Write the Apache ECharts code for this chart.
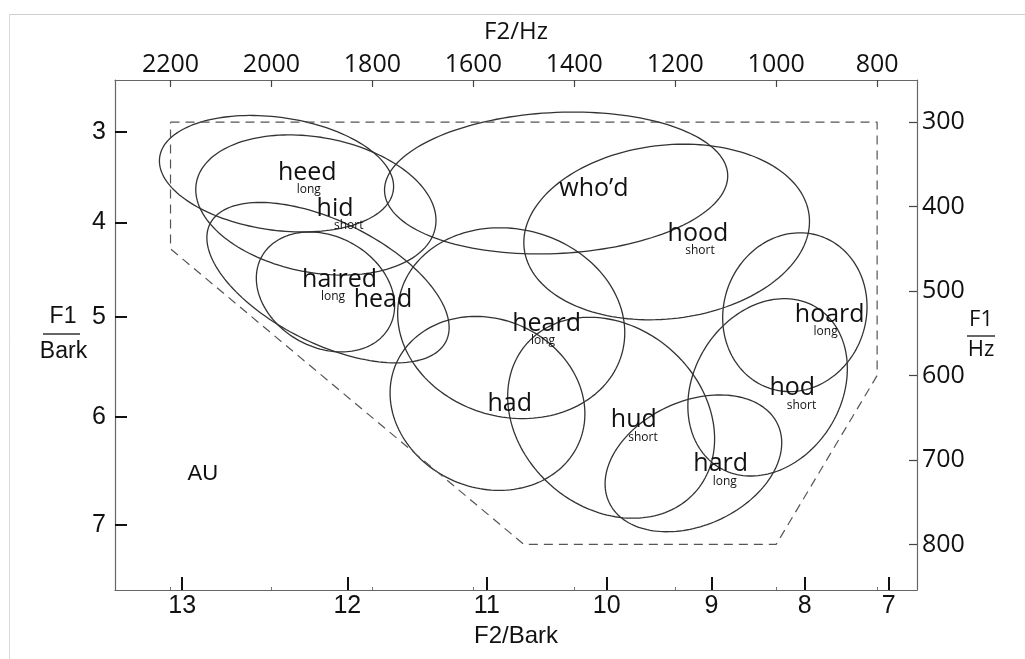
<!DOCTYPE html>
<html>
<head>
<meta charset="utf-8">
<script src="https://cdn.jsdelivr.net/npm/echarts@6/dist/echarts.min.js"></script>
<style>
html,body{margin:0;padding:0;background:#fff;}
#chart{width:1025px;height:659px;}
</style>
</head>
<body>
<div id="chart"></div>
<script>
// ---------------- data ----------------
const F2_HZ_TICKS = [2200, 2000, 1800, 1600, 1400, 1200, 1000, 800];
const F1_HZ_TICKS = [300, 400, 500, 600, 700, 800];
const F2_BARK_TICKS = [13, 12, 11, 10, 9, 8, 7];
const F1_BARK_TICKS = [3, 4, 5, 6, 7];

const vowels    = ['heed', 'hid', 'haired', 'head', 'who\u2019d', 'hood', 'heard', 'had', 'hud', 'hard', 'hod', 'hoard'];
const lengthTag = ['long', 'short', 'long', '', '', 'short', 'long', '', 'short', 'long', 'short', 'long'];

// ellipse centre (F2 Hz, F1 Hz), half extents (Hz) and F2/F1 correlation
const ellipseF2   = [1990, 1912, 1888, 1893, 1436, 1217, 1525, 1572, 1327, 1164, 1017, 963];
const ellipseF1   = [361, 398, 490, 501, 372, 430, 538, 633, 650, 704, 614, 525];
const ellipseHalfF2 = [232, 238, 240, 137, 340, 283, 225, 193, 205, 175, 158, 143];
const ellipseHalfF1 = [69, 83, 95, 71, 84, 104, 113, 103, 119, 81, 105, 94];
const ellipseRho  = [-0.22, -0.22, -0.56, -0.23, 0.10, 0.12, -0.10, -0.12, -0.21, 0.30, 0.21, 0.07];

// word label anchors (F2 Hz, F1 Hz)
const wordF2 = [1929, 1874, 1865, 1779, 1361, 1155, 1455, 1528, 1282, 1110, 968, 894];
const wordF1 = [360, 403, 487, 510, 379, 432, 539, 634, 652, 705, 615, 528];
// long / short tag anchors
const tagF2 = [1926, 1847, 1878, null, null, 1151, 1462, null, 1264, 1102, 950, 902];
const tagF1 = [380, 423, 507, null, null, 452, 559, null, 673, 726, 635, 548];

// dashed vowel-space outline
const outlineF2 = [2200, 800, 800, 1000, 1500, 2200, 2200];
const outlineF1 = [300, 300, 600, 800, 800, 450, 300];

const groupLabel = 'AU';
const groupLabelF2 = 2136;
const groupLabelF1 = 716;

// ---------------- helpers ----------------
function hzToBark(f) { return 13 * Math.atan(0.00076 * f) + 3.5 * Math.atan(Math.pow(f / 7500, 2)); }
function barkToHz(z) {
  let lo = 20, hi = 10000;
  for (let i = 0; i < 60; i++) { const m = (lo + hi) / 2; if (hzToBark(m) < z) lo = m; else hi = m; }
  return (lo + hi) / 2;
}

const TXT = '#111';
const FRAME = '#666';

const chart = echarts.init(document.getElementById('chart'), null, {renderer: 'canvas'});

const ellipseData = vowels.map((v, i) => ({name: v, value: [ellipseF2[i], ellipseF1[i], ellipseHalfF2[i], ellipseHalfF1[i], ellipseRho[i]]}));
const wordData = vowels.map((v, i) => ({name: v, value: [wordF2[i], wordF1[i]]}));
const tagData = [];
lengthTag.forEach((t, i) => { if (t) tagData.push({name: t, value: [tagF2[i], tagF1[i]]}); });

function renderEllipse(params, api) {
  const cx = api.value(0), cy = api.value(1), sx = api.value(2), sy = api.value(3), r = api.value(4);
  const q = Math.sqrt(1 - r * r);
  const pts = [];
  const N = 160;
  for (let i = 0; i < N; i++) {
    const t = 2 * Math.PI * i / N;
    pts.push(api.coord([cx + sx * Math.cos(t), cy + sy * (r * Math.cos(t) + q * Math.sin(t))]));
  }
  return {type: 'polygon', shape: {points: pts}, style: {fill: 'none', stroke: '#333', lineWidth: 1.3}};
}

function textRenderer(list, fontSize, family) {
  return function (params, api) {
    const p = api.coord([api.value(0), api.value(1)]);
    return {
      type: 'text', x: p[0], y: p[1],
      style: {text: list[params.dataIndex].name, fontSize: fontSize, fontFamily: family, fill: TXT, align: 'center', verticalAlign: 'middle'}
    };
  };
}

const option = {
  backgroundColor: '#fff',
  animation: false,
  grid: {left: 115, right: 108, top: 80, bottom: 69, containLabel: false},
  xAxis: [
    {
      type: 'value', position: 'top', min: 721, max: 2310, inverse: true,
      name: 'F2/Hz', nameLocation: 'middle', nameGap: 36,
      nameTextStyle: {fontFamily: 'Open Sans', fontSize: 24, color: TXT},
      axisLine: {show: true, onZero: false, lineStyle: {color: FRAME, width: 1.2}},
      axisTick: {show: true, inside: true, length: 7, customValues: F2_HZ_TICKS, lineStyle: {color: '#444', width: 1.2}},
      axisLabel: {show: true, customValues: F2_HZ_TICKS, margin: 3, fontFamily: 'Open Sans', fontSize: 25, color: TXT,
        formatter: v => String(v)},
      splitLine: {show: false}
    },
    {
      type: 'value', position: 'bottom', min: 733.4, max: 2080.9, inverse: true,
      name: 'F2/Bark', nameLocation: 'middle', nameGap: 30,
      nameTextStyle: {fontFamily: 'Liberation Sans', fontSize: 24, color: TXT},
      axisLine: {show: true, onZero: false, lineStyle: {color: FRAME, width: 1.2}},
      axisTick: {show: true, inside: true, length: 13, customValues: F2_BARK_TICKS.map(barkToHz), lineStyle: {color: '#111', width: 2}},
      axisLabel: {show: true, customValues: F2_BARK_TICKS.map(barkToHz), margin: 4, fontFamily: 'Liberation Sans', fontSize: 25, color: TXT,
        formatter: v => String(Math.round(hzToBark(v)))},
      splitLine: {show: false}
    },
    {
      type: 'value', position: 'bottom', min: 721, max: 2310, inverse: true,
      axisLine: {show: false, onZero: false},
      axisTick: {show: true, inside: true, length: 3, customValues: F2_HZ_TICKS, lineStyle: {color: '#777', width: 1}},
      axisLabel: {show: false},
      splitLine: {show: false}
    }
  ],
  yAxis: [
    {
      type: 'value', position: 'right', min: 250, max: 854, inverse: true,
      axisLine: {show: true, onZero: false, lineStyle: {color: FRAME, width: 1.2}},
      axisTick: {show: true, inside: true, length: 8, customValues: F1_HZ_TICKS, lineStyle: {color: '#444', width: 1.2}},
      axisLabel: {show: true, customValues: F1_HZ_TICKS, margin: 5, fontFamily: 'Open Sans', fontSize: 25, color: TXT,
        formatter: v => String(v)},
      splitLine: {show: false}
    },
    {
      type: 'value', position: 'left', min: 245.9, max: 858.8, inverse: true,
      axisLine: {show: true, onZero: false, lineStyle: {color: FRAME, width: 1.2}},
      axisTick: {show: true, inside: true, length: 12, customValues: F1_BARK_TICKS.map(barkToHz), lineStyle: {color: '#111', width: 2}},
      axisLabel: {show: true, customValues: F1_BARK_TICKS.map(barkToHz), margin: 9, fontFamily: 'Liberation Sans', fontSize: 25, color: TXT,
        formatter: v => String(Math.round(hzToBark(v)))},
      splitLine: {show: false}
    }
  ],
  graphic: [
    {type: 'line', shape: {x1: 10, y1: 14.5, x2: 1025, y2: 14.5}, style: {stroke: '#cfcfcf', lineWidth: 1}, silent: true},
    {type: 'line', shape: {x1: 9.5, y1: 14, x2: 9.5, y2: 659}, style: {stroke: '#d8d8d8', lineWidth: 1}, silent: true},
    {type: 'text', x: 63, y: 317, style: {text: 'F1', fontFamily: 'Liberation Sans', fontSize: 23, fill: TXT, align: 'center', verticalAlign: 'middle'}},
    {type: 'line', shape: {x1: 43, y1: 334, x2: 80, y2: 334}, style: {stroke: '#333', lineWidth: 1.5}},
    {type: 'text', x: 63.5, y: 352, style: {text: 'Bark', fontFamily: 'Liberation Sans', fontSize: 23, fill: TXT, align: 'center', verticalAlign: 'middle'}},
    {type: 'text', x: 981, y: 320, style: {text: 'F1', fontFamily: 'Open Sans', fontSize: 22, fill: TXT, align: 'center', verticalAlign: 'middle'}},
    {type: 'line', shape: {x1: 967, y1: 336, x2: 995, y2: 336}, style: {stroke: '#333', lineWidth: 1.5}},
    {type: 'text', x: 981, y: 350, style: {text: 'Hz', fontFamily: 'Open Sans', fontSize: 22, fill: TXT, align: 'center', verticalAlign: 'middle'}}
  ],
  series: [
    {
      type: 'line', xAxisIndex: 0, yAxisIndex: 0, symbol: 'none', silent: true,
      data: outlineF2.map((x, i) => [x, outlineF1[i]]),
      lineStyle: {color: '#555', width: 1.2, type: [9, 6]}
    },
    {
      type: 'custom', xAxisIndex: 0, yAxisIndex: 0, silent: true,
      encode: {x: 0, y: 1},
      data: ellipseData,
      renderItem: renderEllipse
    },
    {
      type: 'custom', xAxisIndex: 0, yAxisIndex: 0, silent: true,
      encode: {x: 0, y: 1},
      data: wordData,
      renderItem: textRenderer(wordData, 25, 'Open Sans')
    },
    {
      type: 'custom', xAxisIndex: 0, yAxisIndex: 0, silent: true,
      encode: {x: 0, y: 1},
      data: tagData,
      renderItem: textRenderer(tagData, 12, 'Open Sans')
    },
    {
      type: 'custom', xAxisIndex: 0, yAxisIndex: 0, silent: true,
      encode: {x: 0, y: 1},
      data: [{name: groupLabel, value: [groupLabelF2, groupLabelF1]}],
      renderItem: textRenderer([{name: groupLabel}], 22, 'Liberation Sans')
    }
  ]
};
chart.setOption(option);
</script>
</body>
</html>
